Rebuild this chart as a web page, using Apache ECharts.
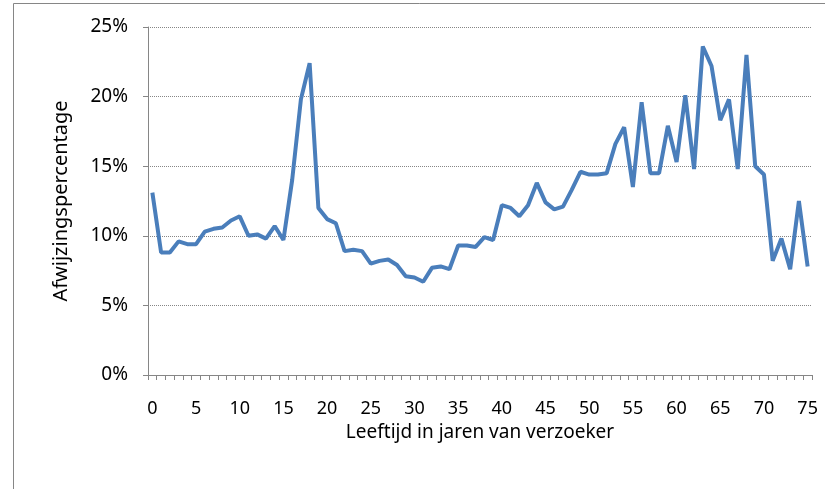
<!DOCTYPE html>
<html>
<head>
  <meta charset="UTF-8">
  <title>Afwijzingspercentage naar leeftijd</title>
  <script src="https://cdn.jsdelivr.net/npm/echarts@6/dist/echarts.min.js"></script>
  <style>
    html, body { margin: 0; padding: 0; background: #fff; }
    #chart { width: 825px; height: 489px; }
  </style>
</head>
<body>
  <div id="chart"></div>
  <script>
    // leeftijden 0..75
    const ages = [];
    for (let a = 0; a <= 75; a++) ages.push(String(a));

    // afwijzingspercentage per leeftijd (%)
    const rejectPct = [
      13.1, 8.8, 8.8, 9.6, 9.4, 9.4, 10.3, 10.5, 10.6, 11.1,
      11.4, 10.0, 10.1, 9.8, 10.7, 9.7, 14.0, 19.8, 22.4, 12.0,
      11.2, 10.9, 8.9, 9.0, 8.9, 8.0, 8.2, 8.3, 7.9, 7.1,
      7.0, 6.7, 7.7, 7.8, 7.6, 9.3, 9.3, 9.2, 9.9, 9.7,
      12.2, 12.0, 11.4, 12.2, 13.8, 12.4, 11.9, 12.1, 13.3, 14.6,
      14.4, 14.4, 14.5, 16.6, 17.8, 13.5, 19.6, 14.5, 14.5, 17.9,
      15.3, 20.1, 14.8, 23.6, 22.2, 18.3, 19.8, 14.8, 23.0, 15.0,
      14.4, 8.2, 9.8, 7.6, 12.5, 7.8
    ];

    const yTicks = [0, 5, 10, 15, 20, 25];

    const font = 'Noto Sans';
    const chart = echarts.init(document.getElementById('chart'));
    chart.setOption({
      animation: false,
      grid: { left: 148, right: 13, top: 27, bottom: 114 },
      graphic: [
        { type: 'line', shape: { x1: 13.5, y1: 3.5, x2: 825, y2: 3.5 }, style: { stroke: '#868686', lineWidth: 1 } },
        { type: 'line', shape: { x1: 13.5, y1: 3.5, x2: 13.5, y2: 489 }, style: { stroke: '#868686', lineWidth: 1 } }
      ],
      xAxis: {
        type: 'category',
        data: ages,
        boundaryGap: true,
        name: 'Leeftijd in jaren van verzoeker',
        nameLocation: 'middle',
        nameGap: 47,
        nameTextStyle: { fontFamily: font, fontSize: 19, color: '#000' },
        axisLine: { lineStyle: { color: '#868686', width: 1 } },
        axisTick: { show: true, interval: 0, length: 5, lineStyle: { color: '#868686' } },
        axisLabel: { interval: 4, margin: 25, fontFamily: font, fontSize: 18, color: '#000' },
        splitLine: { show: false }
      },
      yAxis: {
        type: 'value',
        min: yTicks[0],
        max: yTicks[yTicks.length - 1],
        interval: 5,
        name: 'Afwijzingspercentage',
        nameLocation: 'middle',
        nameGap: 77,
        nameTextStyle: { fontFamily: font, fontSize: 20, color: '#000' },
        axisLine: { show: true, lineStyle: { color: '#868686', width: 1 } },
        axisTick: { show: true, length: 5, lineStyle: { color: '#868686' } },
        axisLabel: { formatter: '{value}%', margin: 20, fontFamily: font, fontSize: 19, color: '#000' },
        splitLine: { lineStyle: { color: '#868686', type: [1, 1], width: 1 } }
      },
      series: [{
        type: 'line',
        data: rejectPct,
        showSymbol: false,
        lineStyle: { color: '#4A7EBB', width: 4 },
        itemStyle: { color: '#4A7EBB' }
      }]
    });
  </script>
</body>
</html>
